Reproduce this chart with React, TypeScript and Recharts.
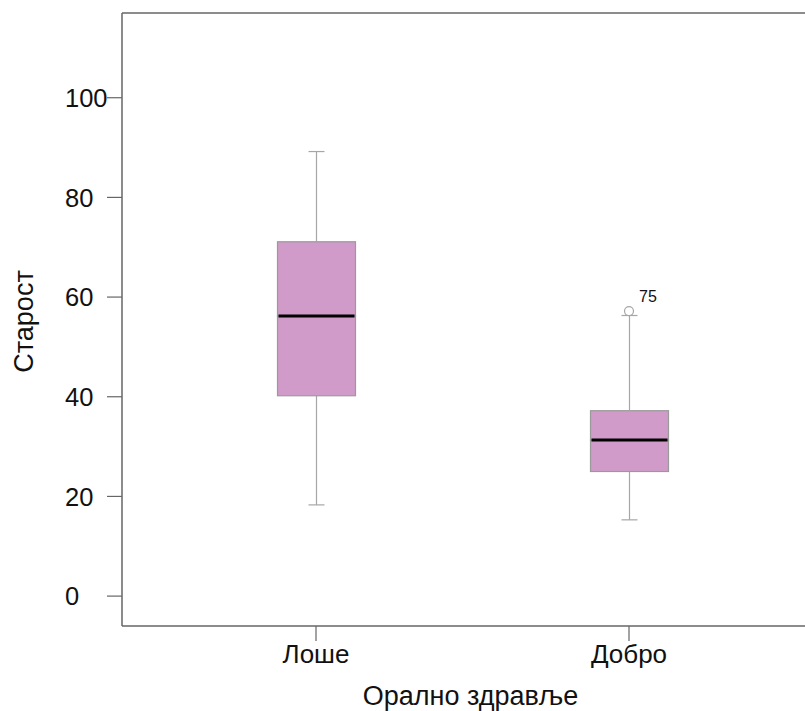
import React from 'react';
import { ComposedChart, Bar, Scatter, XAxis, YAxis, ReferenceLine } from 'recharts';

// групе и вредности кутија (очитано са слике)
const groups = ['Лоше', 'Добро'];
const whiskerLow = [18.3, 15.3];
const quart1 = [40.2, 25.0];
const medians = [56.2, 31.3];
const quart3 = [71.1, 37.2];
const whiskerHigh = [89.2, 56.3];

// екстремна вредност (само у групи Добро)
const outlierValues: (number | null)[] = [null, 57.2];
const outlierIds = ['', '75'];

const yTicks = [0, 20, 40, 60, 80, 100];
const yMin = -6;
const yMax = 117;

const FONT = '"Liberation Sans", Arial, sans-serif';
const AXIS = '#666';
const WHISKER = '#a6a6a6';
const BOX_FILL = '#d09bc8';
const BOX_STROKE = '#9a9a9a';

const data = groups.map((g, i) => ({
    name: g,
    base: whiskerLow[i],
    lowWhisker: quart1[i] - whiskerLow[i],
    lowBox: medians[i] - quart1[i],
    highBox: quart3[i] - medians[i],
    highWhisker: whiskerHigh[i] - quart3[i],
    outlier: outlierValues[i],
    outlierId: outlierIds[i],
}));

const LowWhisker = (p: any) => {
    const cx = p.x + p.width / 2;
    const bottom = p.y + p.height;
    return (
        <g>
            <line x1={cx} x2={cx} y1={p.y} y2={bottom} stroke={WHISKER} strokeWidth={1.2} />
            <line x1={cx - 8} x2={cx + 8} y1={bottom} y2={bottom} stroke={WHISKER} strokeWidth={1.2} />
        </g>
    );
};

const HighWhisker = (p: any) => {
    const cx = p.x + p.width / 2;
    return (
        <g>
            <line x1={cx} x2={cx} y1={p.y} y2={p.y + p.height} stroke={WHISKER} strokeWidth={1.2} />
            <line x1={cx - 8} x2={cx + 8} y1={p.y} y2={p.y} stroke={WHISKER} strokeWidth={1.2} />
        </g>
    );
};

const LowBox = (p: any) => (
    <rect x={p.x} y={p.y} width={p.width} height={p.height} fill={BOX_FILL} stroke={BOX_STROKE} strokeWidth={1.2} />
);

// горња половина кутије + медијана на њеном дну
const HighBox = (p: any) => (
    <g>
        <rect x={p.x} y={p.y} width={p.width} height={p.height} fill={BOX_FILL} stroke={BOX_STROKE} strokeWidth={1.2} />
        <line x1={p.x + 1} x2={p.x + p.width - 1} y1={p.y + p.height} y2={p.y + p.height} stroke="#000" strokeWidth={3} />
    </g>
);

const OutlierDot = (p: any) => {
    if (!p.payload || p.payload.outlier == null || !Number.isFinite(p.cy)) return <g />;
    return (
        <g>
            <circle cx={p.cx} cy={p.cy} r={4.5} fill="#fff" stroke={WHISKER} strokeWidth={1.2} />
            <text x={p.cx + 10} y={p.cy - 9} fontSize={16} fontFamily={FONT} fill="#111">
                {p.payload.outlierId}
            </text>
        </g>
    );
};

const YTick = (p: any) => (
    <text x={65} y={p.y} dy="0.36em" textAnchor="start" fontSize={25.5} fontFamily={FONT} fill="#111">
        {p.payload.value}
    </text>
);

const YTitle = (p: any) => {
    const vb = p.viewBox;
    const cy = vb.y + vb.height / 2 + 2;
    return (
        <text x={33} y={cy} transform={`rotate(-90, 33, ${cy})`} textAnchor="middle" fontSize={27} fontFamily={FONT} fill="#111">
            Старост
        </text>
    );
};

const XTitle = (p: any) => {
    const vb = p.viewBox;
    return (
        <text x={vb.x + vb.width / 2 + 7} y={705} textAnchor="middle" fontSize={27} fontFamily={FONT} fill="#111">
            Орално здравље
        </text>
    );
};

export default function App() {
    return (
        <div style={{ position: 'absolute', left: 0, top: 0, width: 805, height: 711, background: '#fff' }}>
            <ComposedChart width={805} height={711} data={data} margin={{ top: 13, right: 0, bottom: 0, left: 0 }}>
                <XAxis
                    dataKey="name"
                    height={85}
                    padding={{ left: 37.5, right: 19.5 }}
                    tickSize={15}
                    tickMargin={4}
                    axisLine={{ stroke: AXIS, strokeWidth: 1.5 }}
                    tickLine={{ stroke: AXIS, strokeWidth: 1.2 }}
                    tick={{ fontSize: 26, fontFamily: FONT, fill: '#111' }}
                    label={{ content: XTitle }}
                />
                <YAxis
                    type="number"
                    domain={[yMin, yMax]}
                    ticks={yTicks}
                    allowDataOverflow
                    width={122}
                    tickSize={15}
                    axisLine={{ stroke: AXIS, strokeWidth: 1.5 }}
                    tickLine={{ stroke: AXIS, strokeWidth: 1.2 }}
                    tick={YTick}
                    label={{ content: YTitle }}
                />
                <ReferenceLine y={yMax} stroke={AXIS} strokeWidth={1.5} />
                <Bar dataKey="base" stackId="box" fill="transparent" barSize={78} isAnimationActive={false} />
                <Bar dataKey="lowWhisker" stackId="box" shape={LowWhisker} barSize={78} isAnimationActive={false} />
                <Bar dataKey="lowBox" stackId="box" shape={LowBox} barSize={78} isAnimationActive={false} />
                <Bar dataKey="highBox" stackId="box" shape={HighBox} barSize={78} isAnimationActive={false} />
                <Bar dataKey="highWhisker" stackId="box" shape={HighWhisker} barSize={78} isAnimationActive={false} />
                <Scatter dataKey="outlier" shape={OutlierDot} isAnimationActive={false} />
            </ComposedChart>
        </div>
    );
}
